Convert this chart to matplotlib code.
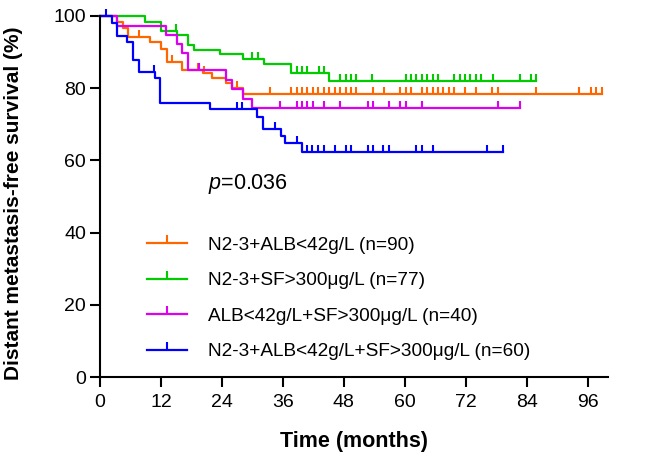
import matplotlib
matplotlib.use("Agg")
import matplotlib.pyplot as plt
import numpy as np
from matplotlib.path import Path
from matplotlib.lines import Line2D

plt.rcParams['font.family'] = ['Liberation Sans', 'DejaVu Sans']
plt.rcParams['mathtext.fontset'] = 'custom'
plt.rcParams['mathtext.it'] = 'Liberation Sans:italic'
plt.rcParams['mathtext.rm'] = 'Liberation Sans'

# --- data (months, % surviving) ---
orange_t = [3.4, 4.5, 5.6, 9.8, 12.0, 13.1, 16.2, 20.2, 22.1, 24.9, 25.9, 28.1]
orange_s = [98.3, 96.5, 94.2, 92.8, 90.7, 87.3, 85.0, 84.1, 82.7, 81.5, 79.9, 78.3]
orange_end = 98.8
orange_cens = [7.7, 14.1, 19.3, 20.5, 26.9, 33.4, 37.7, 38.7, 39.7, 40.8, 41.9, 43.0,
               44.1, 45.1, 46.2, 47.3, 48.4, 49.5, 50.5, 53.7, 55.9, 59.0, 60.2, 61.2,
               63.4, 64.4, 65.5, 66.5, 67.6, 68.7, 69.7, 71.9, 74.0, 77.2, 78.3, 85.8,
               94.4, 96.6, 97.6, 98.8]

green_t = [8.85, 12.0, 15.2, 17.4, 18.5, 23.7, 28.1, 32.3, 37.7, 45.1]
green_s = [98.3, 95.9, 94.7, 91.9, 90.6, 89.4, 87.9, 86.6, 84.1, 82.0]
green_end = 85.8
green_cens = [15.0, 30.0, 31.1, 38.8, 39.7, 40.7, 43.1, 44.1, 47.3, 48.4, 49.4, 50.5,
              53.6, 60.2, 61.2, 62.3, 63.3, 64.4, 65.5, 66.5, 69.7, 70.8, 71.9, 72.9,
              74.0, 75.1, 77.3, 82.6, 84.8, 85.8]

magenta_t = [3.4, 13.0, 15.1, 16.1, 17.3, 24.8, 25.9, 28.1, 30.0]
magenta_s = [97.2, 94.6, 92.1, 89.6, 85.0, 82.2, 79.6, 77.0, 74.4]
magenta_end = 82.6
magenta_cens = [19.5, 35.4, 38.7, 39.7, 40.8, 41.9, 44.1, 47.2, 52.7, 53.7, 56.9,
                59.0, 60.2, 63.4, 78.3, 82.6]

blue_t = [2.3, 3.3, 5.4, 6.6, 7.7, 10.8, 11.9, 21.6, 30.9, 32.1, 35.6, 36.5, 39.8]
blue_s = [97.9, 94.4, 92.8, 87.7, 84.5, 82.7, 75.8, 74.1, 72.1, 68.6, 66.7, 64.7, 62.4]
blue_end = 79.3
blue_cens = [1.2, 10.6, 26.9, 28.0, 34.4, 38.7, 40.8, 41.8, 42.9, 44.1, 46.2, 48.4,
             49.4, 52.7, 53.7, 55.8, 56.9, 62.3, 63.4, 65.5, 76.2, 79.3]

labels = ["N2-3+ALB<42g/L (n=90)", "N2-3+SF>300μg/L (n=77)",
          "ALB<42g/L+SF>300μg/L (n=40)", "N2-3+ALB<42g/L+SF>300μg/L (n=60)"]
colors = ["#FF6600", "#00CC00", "#DD00EE", "#0000FF"]

xticks = [0, 12, 24, 36, 48, 60, 72, 84, 96]
yticks = [0, 20, 40, 60, 80, 100]

fig = plt.figure(figsize=(6.5, 4.57), dpi=100)
ax = fig.add_axes([0.1538, 0.1744, 0.7815, 0.7912])

up = Path([(0, 0), (0, 1)])  # censor tick pointing upward


def km(times, levels, end, cens, color, label):
    t = np.r_[0, times, end]
    s = np.r_[100, levels, levels[-1]]
    ax.step(t, s, where='post', color=color, lw=1.6, clip_on=False)
    full = np.r_[100, levels]
    idx = np.searchsorted(times, cens, side='right')
    ax.plot(cens, full[idx], ls='', marker=up, ms=10, mew=1.5,
            color=color, clip_on=False)
    return Line2D([], [], color=color, lw=1.6, marker=up, ms=11, mew=1.5, label=label)


handles = []
handles.append(km(orange_t, orange_s, orange_end, orange_cens, colors[0], labels[0]))
handles.append(km(green_t, green_s, green_end, green_cens, colors[1], labels[1]))
handles.append(km(magenta_t, magenta_s, magenta_end, magenta_cens, colors[2], labels[2]))
handles.append(km(blue_t, blue_s, blue_end, blue_cens, colors[3], labels[3]))

ax.set_xlim(0, 100)
ax.set_ylim(0, 100)
ax.set_xticks(xticks)
ax.set_yticks(yticks)
for sp in ['top', 'right']:
    ax.spines[sp].set_visible(False)
for sp in ['left', 'bottom']:
    ax.spines[sp].set_linewidth(1.5)
ax.tick_params(direction='out', length=7, width=1.5, labelsize=14)
ax.tick_params(axis='y', pad=3)
ax.tick_params(axis='x', pad=5)

ax.set_xlabel("Time (months)", fontsize=15.5, fontweight='bold')
ax.set_ylabel("Distant metastasis-free survival (%)", fontsize=15, fontweight='bold')
ax.xaxis.set_label_coords(0.5, -0.148)
ax.yaxis.set_label_coords(-0.152, 0.48)

ax.text(21.2, 53.5, "$p$=0.036", fontsize=15.5, ha='left', va='center')

ax.legend(handles=handles, loc='center left', bbox_to_anchor=(0.0925, 0.218),
          frameon=False, fontsize=13.7, numpoints=1, handlelength=2.1,
          handletextpad=1.1, labelspacing=0.95, borderpad=0, borderaxespad=0)

fig.savefig("out.png", dpi=100)
